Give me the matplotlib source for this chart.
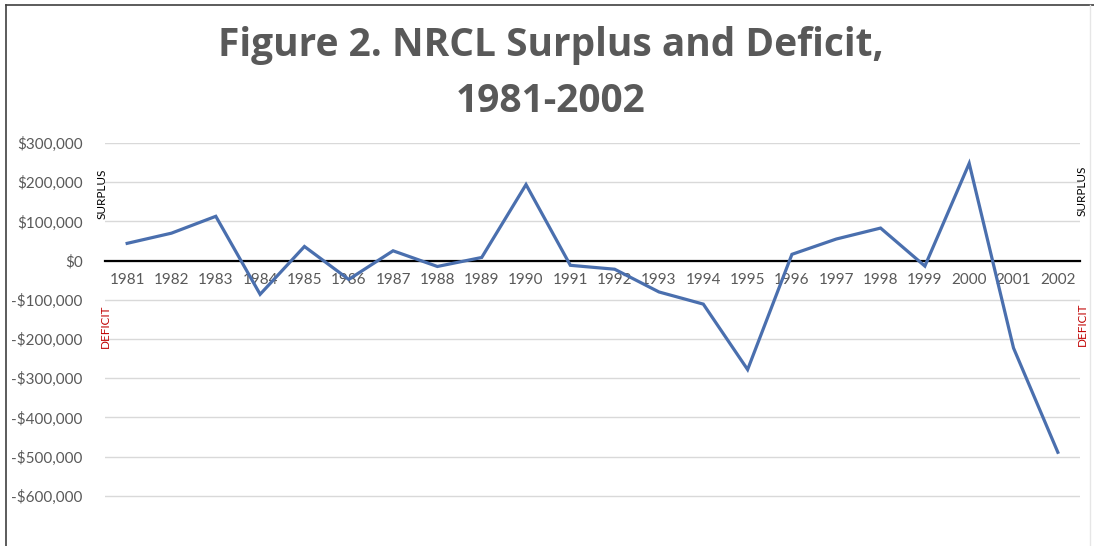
import matplotlib
matplotlib.use("Agg")
import matplotlib.pyplot as plt
from matplotlib.ticker import FuncFormatter

years = ["1981", "1982", "1983", "1984", "1985", "1986", "1987", "1988", "1989", "1990", "1991",
         "1992", "1993", "1994", "1995", "1996", "1997", "1998", "1999", "2000", "2001", "2002"]
balance = [44000, 70000, 113000, -86000, 36000, -48000, 25000, -15000, 8000, 194000, -12000,
           -22000, -80000, -111000, -278000, 16000, 55000, 83000, -14000, 248000, -223000, -489000]
y_ticks = [-600000, -500000, -400000, -300000, -200000, -100000, 0, 100000, 200000, 300000]
title_lines = ["Figure 2. NRCL Surplus and Deficit,", "1981-2002"]

FONT = "Lato"
TFONT = "Open Sans"
GRAY = "#595959"
W, H = 1094, 546
fig = plt.figure(figsize=(W / 100, H / 100), dpi=100)
fig.patch.set_facecolor("white")

# chart frame
fig.add_artist(plt.Line2D([6 / W, 6 / W], [0, 1 - 5 / H], color="#404040", lw=1.2))
fig.add_artist(plt.Line2D([6 / W, 1], [1 - 5 / H, 1 - 5 / H], color="#404040", lw=1.2))
fig.add_artist(plt.Line2D([1090 / W, 1090 / W], [0, 1 - 5 / H], color="#e6e6e6", lw=1.0))

ax = fig.add_axes([105 / W, 1 - 535 / H, (1080 - 105) / W, (535 - 143) / H])
x = list(range(len(years)))
ax.plot(x, balance, color="#4A6FAE", lw=2.3, solid_joinstyle="miter", zorder=3)
ax.set_xlim(-0.5, len(years) - 0.5)
ax.set_ylim(-700000, 300000)
ax.set_yticks(y_ticks)
ax.yaxis.set_major_formatter(FuncFormatter(lambda v, p: ("-$" if v < 0 else "$") + f"{abs(int(v)):,}"))
ax.grid(axis="y", color="#D9D9D9", lw=1.0, zorder=0)
for s in ["left", "right", "top"]:
    ax.spines[s].set_visible(False)
ax.spines["bottom"].set_position(("data", 0))
ax.spines["bottom"].set_color("black")
ax.spines["bottom"].set_linewidth(1.6)
ax.spines["bottom"].set_zorder(2)
ax.set_xticks(x)
ax.set_xticklabels(years)
ax.tick_params(axis="x", length=0, pad=9, labelsize=11, labelcolor=GRAY)
ax.tick_params(axis="y", length=0, pad=16, labelsize=11, labelcolor=GRAY)
for lab in ax.get_xticklabels() + ax.get_yticklabels():
    lab.set_fontfamily(FONT)

# side labels
fig.text(102 / W, 1 - 194 / H, "SURPLUS", rotation=90, ha="center", va="center",
         fontsize=8.5, color="black", family=FONT)
fig.text(1082 / W, 1 - 191 / H, "SURPLUS", rotation=90, ha="center", va="center",
         fontsize=8.5, color="black", family=FONT)
fig.text(105 / W, 1 - 326 / H, "DEFICIT", rotation=90, ha="center", va="center",
         fontsize=8.5, color="#C00000", family=FONT)
fig.text(1082 / W, 1 - 324 / H, "DEFICIT", rotation=90, ha="center", va="center",
         fontsize=8.5, color="#C00000", family=FONT)

# title
fig.text(551 / W, 1 - 56 / H, title_lines[0], ha="center", va="baseline",
         fontsize=28, fontweight="bold", color=GRAY, family=TFONT)
fig.text(551 / W, 1 - 112 / H, title_lines[1], ha="center", va="baseline",
         fontsize=28, fontweight="bold", color=GRAY, family=TFONT)

fig.savefig("out.png", dpi=100, facecolor="white")
